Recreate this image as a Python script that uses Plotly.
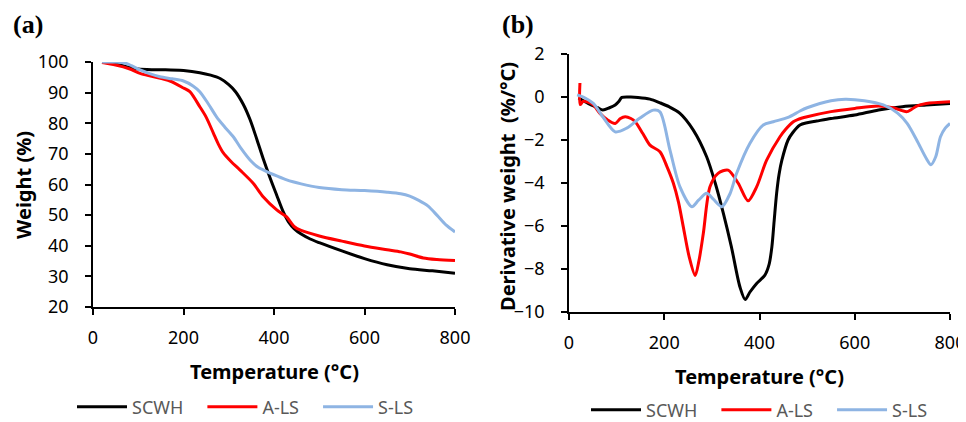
import plotly.graph_objects as go

# ---------------- (a) TGA: weight (%) vs temperature ----------------
scwh_w_T = [20, 40, 60, 80, 100, 130, 160, 200, 236, 260, 281, 300, 315, 332, 347, 362, 376, 391,
            406, 420, 432, 445, 460, 480, 500, 550, 600, 650, 700, 750, 800]
scwh_w = [100, 99.6, 99, 98.3, 97.7, 97.5, 97.5, 97.2, 96.5, 95.7, 94.6, 92.6, 90.3, 86.2, 81.2,
          74.8, 68.5, 62.3, 56.5, 51.2, 47.8, 45.5, 43.8, 42.2, 41, 38.3, 35.8, 33.8, 32.5, 31.8,
          31]

als_w_T = [20, 50, 80, 104, 130, 170, 200, 214, 236, 250, 266, 277, 288, 305, 325, 354, 376, 406,
           428, 445, 460, 500, 550, 600, 650, 680, 700, 730, 760, 800]
als_w = [99.8, 99, 97.8, 96.3, 95.3, 93.8, 91.5, 90.3, 85.4, 82, 76.8, 73.2, 70.3, 67.5, 64.7,
         60.4, 56, 51.7, 49.4, 46.2, 45, 43.2, 41.5, 39.9, 38.7, 38, 37.3, 36, 35.5, 35.2]

sls_w_T = [20, 50, 70, 85, 104, 125, 148, 175, 200, 221, 236, 255, 273, 291, 310, 328, 347, 365,
           384, 406, 428, 460, 500, 550, 600, 650, 680, 700, 720, 740, 760, 780, 800]
sls_w = [100, 100, 99.7, 98.8, 97.4, 96.2, 95.2, 94.5, 93.8, 92.2, 90.3, 86.3, 82.1, 78.8, 75.6,
         71.6, 68, 65.6, 64.2, 62.8, 61.5, 60.2, 59, 58.3, 58, 57.5, 57, 56.2, 54.8, 53, 50, 46.8,
         44.5]

# ---------------- (b) DTG: derivative weight (%/°C) vs temperature ----------------
scwh_d_T = [20, 40, 60, 71, 85, 97, 105, 111, 130, 145, 170, 191, 210, 233, 261, 289, 307, 324,
            341, 359, 370, 380, 394, 411, 420, 426, 431, 436, 441, 447, 460, 470, 485, 500, 520,
            550, 600, 650, 700, 750, 800]
scwh_d = [-0.05, -0.3, -0.5, -0.6, -0.5, -0.37, -0.2, -0.02, 0.0, -0.02, -0.1, -0.27, -0.45,
          -0.76, -1.54, -2.78, -4.0, -5.4, -6.97, -8.84, -9.42, -9.07, -8.67, -8.3, -7.8, -6.97,
          -5.7, -4.47, -3.6, -2.94, -2.0, -1.65, -1.3, -1.2, -1.12, -1.0, -0.84, -0.6, -0.45,
          -0.37, -0.3]

als_d_T = [23, 23.5, 30, 50, 65, 80, 97, 108, 118, 130, 139, 155, 170, 191, 205, 219, 230, 240, 252,
           265, 273, 282, 296, 313, 334, 355, 376, 394, 415, 443, 455, 471, 480, 500, 550, 600, 650,
           680, 710, 730, 750, 800]
als_d = [0.65, -0.35, -0.2, -0.35, -0.76, -1.05, -1.23, -1.0, -0.92, -1.0, -1.15, -1.7, -2.24,
         -2.55, -3.2, -4.0, -4.9, -6.04, -7.4, -8.3, -7.6, -6.35, -4.18, -3.55, -3.4, -4.0, -4.83,
         -4.18, -2.94, -1.85, -1.5, -1.15, -1.05, -0.92, -0.68, -0.53, -0.42, -0.5, -0.68, -0.42,
         -0.3, -0.22]

sls_d_T = [17, 30, 51, 71, 97, 121, 149, 177, 191, 212, 233, 258, 272, 289, 303, 321, 338, 352,
           380, 408, 429, 460, 485, 500, 550, 580, 620, 660, 690, 710, 730, 750, 760, 770, 780, 790,
           800]
sls_d = [0.1, 0.0, -0.3, -0.92, -1.62, -1.45, -0.98, -0.61, -0.69, -2.47, -4.18, -5.1, -4.8, -4.48,
         -4.75, -5.1, -4.5, -3.55, -2.15, -1.3, -1.15, -0.95, -0.65, -0.5, -0.17, -0.1, -0.17,
         -0.37, -0.75, -1.23, -2.0, -2.85, -3.15, -2.78, -1.85, -1.45, -1.23]

names = ["SCWH", "A-LS", "S-LS"]
colors = ["#000000", "#FF0000", "#8EB4E3"]
x_ticks = [0, 200, 400, 600, 800]
w_ticks = [20, 30, 40, 50, 60, 70, 80, 90, 100]
d_ticks = [-10, -8, -6, -4, -2, 0, 2]

# the page places the figure 8px in from the top-left corner of the window
OFF = 8
W, H = 966 - OFF, 422 - OFF
FONT = "Noto Sans"


def fx(p):
    return (p - OFF) / W


def fy(p):
    return 1 - (p - OFF) / H


fig = go.Figure()
tga = [(scwh_w_T, scwh_w), (als_w_T, als_w), (sls_w_T, sls_w)]
dtg = [(scwh_d_T, scwh_d), (als_d_T, als_d), (sls_d_T, sls_d)]
pad = "\u00a0\u00a0\u00a0"
for i, (xs, ys) in enumerate(tga):
    fig.add_trace(go.Scatter(x=xs, y=ys, mode="lines", name=names[i] + pad, legend="legend",
                             line=dict(color=colors[i], width=3, shape="spline", smoothing=0.8),
                             xaxis="x", yaxis="y"))
for i, (xs, ys) in enumerate(dtg):
    fig.add_trace(go.Scatter(x=xs, y=ys, mode="lines", name=names[i] + pad, legend="legend2",
                             line=dict(color=colors[i], width=3, shape="spline", smoothing=0.8),
                             xaxis="x2", yaxis="y2"))

ax_common = dict(showgrid=False, zeroline=False, showline=True, linecolor="black", linewidth=1.5,
                 ticks="outside", ticklen=6, tickwidth=1.5, tickcolor="black", automargin=False,
                 tickfont=dict(family=FONT, size=18, color="black"), mirror=False)

fig.update_layout(
    template="none",
    width=W, height=H, margin=dict(l=0, r=0, t=0, b=0, autoexpand=False),
    paper_bgcolor="white", plot_bgcolor="white",
    xaxis=dict(domain=[fx(93), fx(455)], range=[0, 800], tickvals=x_ticks, anchor="y",
               ticklabelstandoff=8, **ax_common),
    yaxis=dict(domain=[fy(307), fy(62)], range=[20, 100], tickvals=w_ticks, anchor="x",
               ticklabelstandoff=13, **ax_common),
    xaxis2=dict(domain=[fx(569), fx(950)], range=[0, 800], tickvals=x_ticks, anchor="y2",
                ticklabelstandoff=8, **ax_common),
    yaxis2=dict(domain=[fy(312), fy(54)], range=[-10, 2], tickvals=d_ticks, anchor="x2",
                ticklabelstandoff=13, **ax_common),
    legend=dict(orientation="h", x=fx(72), y=fy(407), xanchor="left", yanchor="middle",
                font=dict(family=FONT, size=18, color="#595959"), bgcolor="rgba(0,0,0,0)",
                itemwidth=50),
    legend2=dict(orientation="h", x=fx(586), y=fy(410), xanchor="left", yanchor="middle",
                 font=dict(family=FONT, size=18, color="#595959"), bgcolor="rgba(0,0,0,0)",
                 itemwidth=50),
    showlegend=True,
)

ann = [
    dict(text="<b>(a)</b>", x=fx(11), y=fy(25), xanchor="left", yanchor="middle",
         font=dict(family="Liberation Serif", size=26, color="black")),
    dict(text="<b>(b)</b>", x=fx(500), y=fy(25), xanchor="left", yanchor="middle",
         font=dict(family="Liberation Serif", size=26, color="black")),
    dict(text="<b>Temperature (°C)</b>", x=fx(274), y=fy(371), xanchor="center",
         yanchor="middle", font=dict(family=FONT, size=20, color="black")),
    dict(text="<b>Temperature (°C)</b>", x=fx(759), y=fy(376), xanchor="center",
         yanchor="middle", font=dict(family=FONT, size=20, color="black")),
    dict(text="<b>Weight (%)</b>", x=fx(23), y=fy(185), xanchor="center", yanchor="middle",
         textangle=-90, font=dict(family=FONT, size=20, color="black")),
    dict(text="<b>Derivative weight\u00a0 (%/°C)</b>", x=fx(508), y=fy(187), xanchor="center",
         yanchor="middle", textangle=-90, font=dict(family=FONT, size=20, color="black")),
]
for a in ann:
    a.update(xref="paper", yref="paper", showarrow=False)
fig.update_layout(annotations=ann)

fig.write_html("out.html")
